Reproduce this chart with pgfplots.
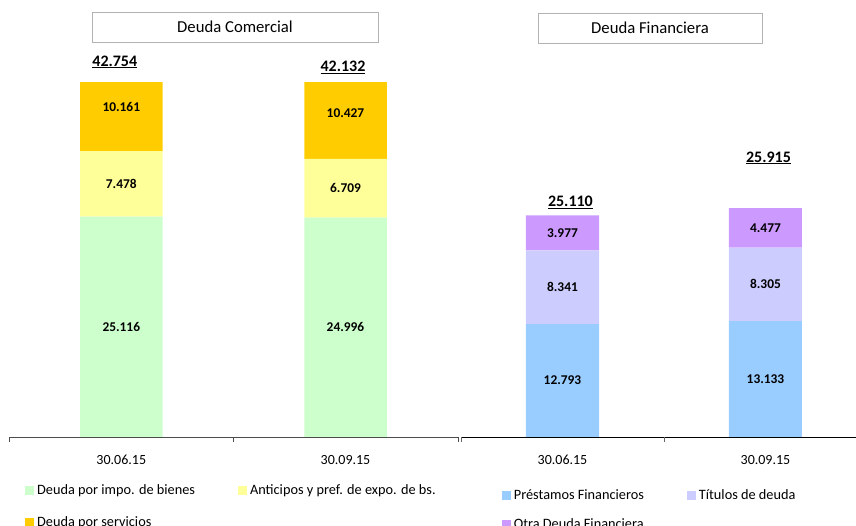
\documentclass[border=0pt]{standalone}
\usepackage{pgfplots}
\pgfplotsset{compat=1.18}
\usepackage{fontspec}
\setmainfont{Carlito}
\definecolor{cGreen}{HTML}{CCFFCC}
\definecolor{cYellow}{HTML}{FFFF99}
\definecolor{cOrange}{HTML}{FFCC00}
\definecolor{cBlue}{HTML}{99CCFF}
\definecolor{cLav}{HTML}{CCCCFF}
\definecolor{cPurple}{HTML}{CC99FF}
\tikzset{
  seglabel/.style={font=\bfseries\fontsize{13.4}{15}\selectfont, text=black},
  totlabel/.style={font=\bfseries\fontsize{16}{18}\selectfont},
}
\pgfplotsset{
  mybars/.style={
    scale only axis, height=354pt, ymin=0,
    xmin=-0.5, ybar stacked,
    axis y line=none, axis x line*=bottom,
    xtick={0,1}, xticklabels={30.06.15,30.09.15},
    major tick length=0pt,
    extra x tick labels={},
    extra x tick style={major tick length=5pt, tick align=outside},
    xticklabel style={anchor=center, yshift=-23pt, font=\fontsize{14}{16}\selectfont},
    clip mode=individual,
    visualization depends on=rawy\as\rawy,
    nodes near coords={\pgfmathprintnumber[fixed,fixed zerofill,precision=3,assume math mode=true]{\rawy}},
    every node near coord/.append style={font=\bfseries\fontsize{13.4}{15}\selectfont, anchor=center, text=black},
    legend image code/.code={\fill[##1] (0pt,-0.5pt) rectangle (9pt,8.5pt);},
    legend columns=2,
    legend cell align=left,
    legend style={draw=none, fill=none, inner sep=0pt, font=\fontsize{14.3}{16}\selectfont,
      nodes={inner sep=0pt, anchor=base west},
      /tikz/every odd column/.append style={column sep=3pt},
      /tikz/every even column/.append style={column sep=43pt}},
  },
}
\begin{document}
\begin{tikzpicture}[x=1pt,y=1pt]
\path[use as bounding box] (0,0) rectangle (856,526);
\node[draw=gray!60, minimum width=286pt, minimum height=30pt, inner sep=0pt, font=\fontsize{16.7}{18}\selectfont] at (235,499) {Deuda Comercial};
\node[draw=gray!60, minimum width=224pt, minimum height=30pt, inner sep=0pt, font=\fontsize{16.7}{18}\selectfont] at (650,498) {Deuda Financiera};

\begin{axis}[mybars,
  at={(9.2pt,89pt)}, anchor=south west,
  width=448.4pt, xmax=1.5, ymax=40.35,
  bar width=82.5pt,
  extra x ticks={-0.5,0.5,1.5},
  x axis line style={draw=black!70},
  extra x tick style={tick style={draw=black!70}},
  legend style={at={(0.035,-0.133)}, anchor=north west, /tikz/row sep=21pt},
]
\addplot[fill=cGreen, draw=none] coordinates {(0,25.116) (1,24.996)};
\addlegendentry{Deuda por impo. de bienes}
\addplot[fill=cYellow, draw=none] coordinates {(0,7.478) (1,6.709)};
\addlegendentry{Anticipos y pref. de expo. de bs.}
\addplot[fill=cOrange, draw=none, nodes near coords={}] coordinates {(0,10.161) (1,10.427)};
\addlegendentry{Deuda por servicios}
\coordinate (o1) at (axis cs:0,37.67);
\coordinate (o2) at (axis cs:1,36.93);
\node[totlabel] at (axis cs:-0.029,42.754) {\underline{42.754}};
\node[totlabel] at (axis cs:0.989,42.132) {\underline{42.132}};
\end{axis}
\node[seglabel] at (o1) {10.161};
\node[seglabel] at (o2) {10.427};

\begin{axis}[mybars,
  at={(461pt,89pt)}, anchor=south west,
  width=395pt, xmax=1.446, ymax=40.09,
  bar width=73pt,
  extra x ticks={-0.5,0.5},
  x axis line style={draw=black},
  extra x tick style={tick style={draw=black!60}},
  legend style={at={(0.103,-0.147)}, anchor=north west, /tikz/row sep=18pt},
]
\addplot[fill=cBlue, draw=none] coordinates {(0,12.793) (1,13.133)};
\addlegendentry{Préstamos Financieros}
\addplot[fill=cLav, draw=none] coordinates {(0,8.341) (1,8.305)};
\addlegendentry{Títulos de deuda}
\addplot[fill=cPurple, draw=none] coordinates {(0,3.977) (1,4.477)};
\addlegendentry{Otra Deuda Financiera}
\node[totlabel] at (axis cs:0.039,26.61) {\underline{25.110}};
\node[totlabel] at (axis cs:1.015,31.6) {\underline{25.915}};
\end{axis}
\end{tikzpicture}
\end{document}
